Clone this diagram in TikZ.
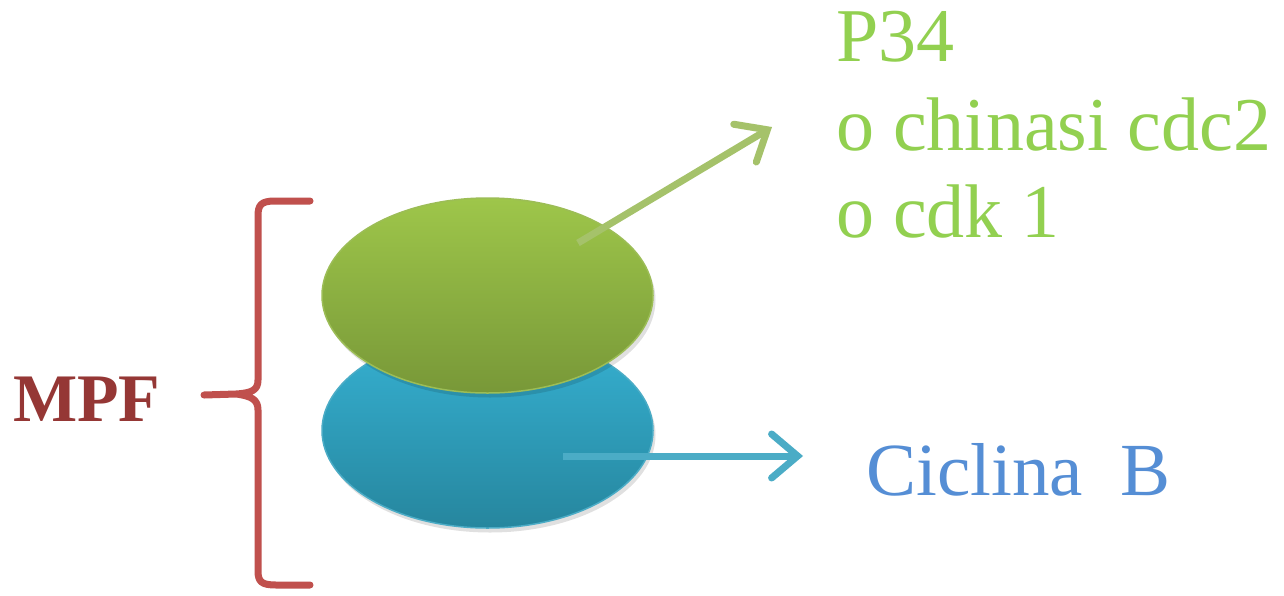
\documentclass[tikz,border=0pt]{standalone}
\usepackage{fontspec}
\setmainfont{Liberation Serif}
\usetikzlibrary{shapes.geometric,arrows.meta}
\definecolor{gtxt}{HTML}{92D050}
\definecolor{btxt}{HTML}{558ED5}
\definecolor{mpfc}{HTML}{953735}
\definecolor{bracec}{HTML}{C0504D}
\definecolor{garr}{HTML}{9BBB59}
\definecolor{barr}{HTML}{4BACC6}
\definecolor{gtop}{HTML}{9EC64A}
\definecolor{gbot}{HTML}{789838}
\definecolor{btop}{HTML}{36B1D2}
\definecolor{bbot}{HTML}{26869E}
\tikzset{
  blob/.style={ellipse, minimum width=331pt, minimum height=195pt, inner sep=0pt, line width=1.5pt},
  blobshadow/.style={ellipse, minimum width=331pt, minimum height=195pt, inner sep=0pt, fill=black, fill opacity=0.12},
  connarrow/.style={line width=7pt, -{Straight Barb[length=26pt, width=44pt, line cap=round]}},
  bigtext/.style={anchor=base west, inner sep=0pt, font=\fontsize{76}{88}\selectfont},
}
\begin{document}
\begin{tikzpicture}[x=1pt,y=-1pt]
\useasboundingbox (0,0) rectangle (1284,595);
\fill[white] (0,0) rectangle (1284,595);
% brace
\draw[bracec, line width=7pt, line cap=round, line join=round]
  (310,201) -- (275,201) .. controls (261,201) and (258,205) .. (258,216)
  -- (258,380) .. controls (258,390) and (252,393) .. (236,394) -- (204,395)
  (236,394) .. controls (252,396) and (258,400) .. (258,410)
  -- (258,571) .. controls (258,582) and (262,585) .. (276,585) -- (310,585);
% ellipses
\node[blobshadow] (bsh) at (490,435) {};
\node[blob, draw=barr, top color=btop, bottom color=bbot] (blue) at (487.5,430.5) {};
\node[blobshadow] (gsh) at (490,300) {};
\node[blob, draw=garr!80!gtop, top color=gtop, bottom color=gbot] (green) at (487.5,295.5) {};
% arrows
\coordinate (gs) at (578,243);
\coordinate (ge) at (772,127);
\coordinate (bs) at (563,456);
\coordinate (be) at (803,456);
\draw[connarrow, garr!90!white] (gs) -- (ge);
\draw[connarrow, barr] (bs) -- (be);
% texts
\node[bigtext, gtxt] (p34) at (836,61) {P34};
\node[bigtext, gtxt] (chin) at (836,150) {o chinasi cdc2};
\node[bigtext, gtxt] (cdk) at (836,237) {o cdk 1};
\node[bigtext, btxt, font=\fontsize{75}{88}\selectfont] (cic) at (866,495) {Ciclina\ \ B};
\node[anchor=base west, inner sep=0pt, mpfc, font=\fontsize{68}{70}\selectfont\bfseries] (mpf) at (13,421) {MPF};
\end{tikzpicture}
\end{document}
